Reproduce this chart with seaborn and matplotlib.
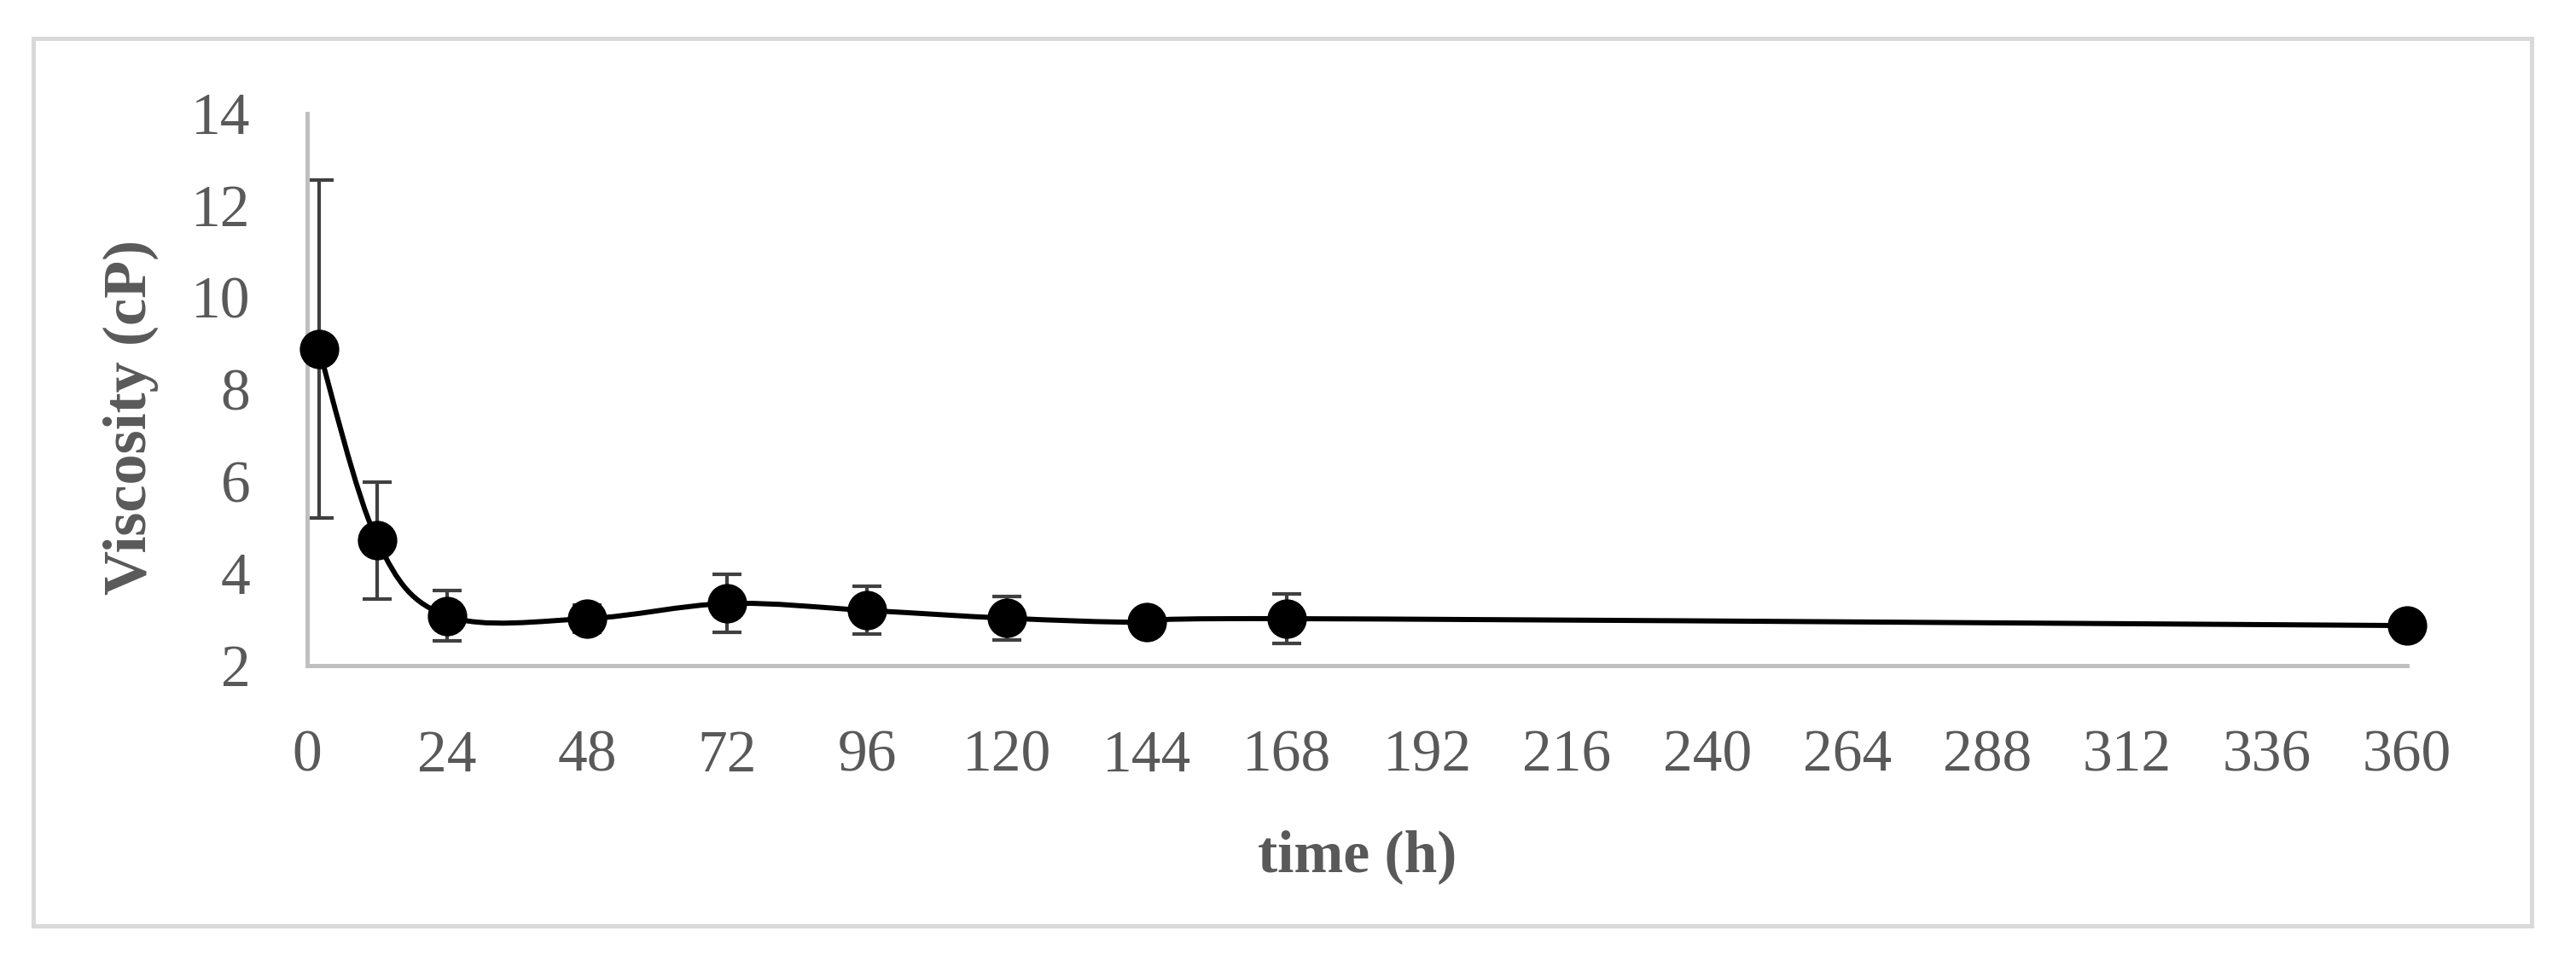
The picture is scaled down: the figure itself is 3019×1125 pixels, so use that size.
import numpy as np
import matplotlib
matplotlib.use('Agg')
import matplotlib.pyplot as plt
from matplotlib.path import Path
from matplotlib.patches import PathPatch, Rectangle
import pandas as pd
import seaborn as sns

# values
time_h = [2, 12, 24, 48, 72, 96, 120, 144, 168, 360]
viscosity = [8.88, 4.72, 3.08, 3.02, 3.35, 3.2, 3.03, 2.94, 3.02, 2.87]
err = [3.67, 1.27, 0.55, 0.3, 0.63, 0.52, 0.47, 0.2, 0.53, 0.15]
xticks = list(range(0, 361, 24))
yticks = [2, 4, 6, 8, 10, 12, 14]

df = pd.DataFrame({'time': time_h, 'visc': viscosity, 'err': err})

sns.set_style('white')
plt.rcParams['font.family'] = ['Liberation Serif', 'DejaVu Serif']
grey = '#595959'
axc = '#bfbfbf'

fig = plt.figure(figsize=(30.19, 11.25), dpi=100)
ax = fig.add_axes([360 / 3019, 1 - 780 / 1125, (2821 - 360) / 3019, (780 - 133) / 1125])

# Excel-like smoothed line (Catmull-Rom bezier through the data points)
pts = np.column_stack([df['time'], df['visc']]).astype(float)
verts = [pts[0]]
codes = [Path.MOVETO]
n = len(pts)
for i in range(n - 1):
    p0 = pts[i - 1] if i > 0 else pts[i]
    p1 = pts[i]
    p2 = pts[i + 1]
    p3 = pts[i + 2] if i + 2 < n else pts[i + 1]
    c1 = p1 + (p2 - p0) / 6.0
    c2 = p2 - (p3 - p1) / 6.0
    verts += [c1, c2, p2]
    codes += [Path.CURVE4] * 3
ax.add_patch(PathPatch(Path(verts, codes), fill=False, edgecolor='black',
                       lw=4.3, zorder=3, clip_on=False))

ax.errorbar(df['time'], df['visc'], yerr=df['err'], fmt='none', ecolor='#404040',
            elinewidth=3, capsize=12, capthick=3, zorder=2)
sns.scatterplot(data=df, x='time', y='visc', ax=ax, color='black', s=950,
                edgecolor='black', zorder=4, clip_on=False, legend=False)

ax.set_xlim(0, 360)
ax.set_ylim(2, 14)
ax.set_xticks(xticks)
ax.set_yticks(yticks)
ax.tick_params(axis='both', colors=axc, labelcolor=grey, labelsize=50,
               length=18, width=3, direction='out')
ax.tick_params(axis='x', pad=36)
ax.tick_params(axis='y', pad=30)
for s in ['top', 'right']:
    ax.spines[s].set_visible(False)
for s in ['left', 'bottom']:
    ax.spines[s].set_color(axc)
    ax.spines[s].set_linewidth(3.6)

ax.set_xlabel('time (h)', fontsize=50, fontweight='bold', color=grey, va='center')
ax.set_ylabel('Viscosity (cP)', fontsize=52, fontweight='bold', color=grey, va='center')
ax.xaxis.set_label_coords(0.5, -0.346)
ax.yaxis.set_label_coords(-0.084, 0.45)

fig.patches.append(Rectangle((39 / 3019, 1 - 1085 / 1125), (2967 - 39) / 3019, (1085 - 45) / 1125,
                             transform=fig.transFigure, fill=False, edgecolor='#d9d9d9', lw=3.6))

fig.savefig('out.png', dpi=100, facecolor='white')
